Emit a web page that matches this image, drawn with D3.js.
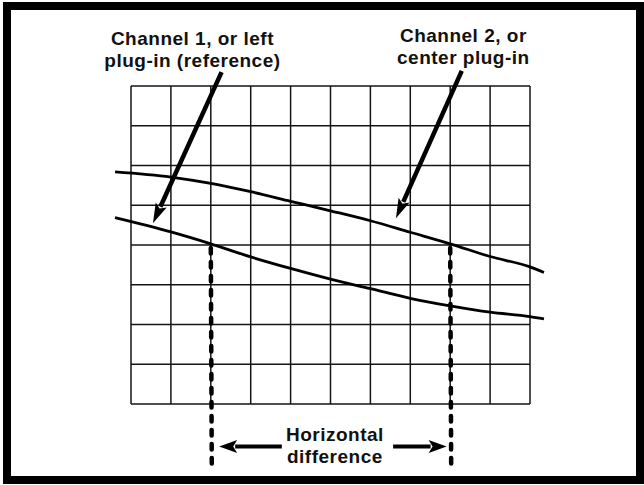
<!DOCTYPE html>
<html>
<head>
<meta charset="utf-8">
<script src="https://cdn.jsdelivr.net/npm/d3@7"></script>
<style>
  html, body { margin: 0; padding: 0; background: #fff; }
  svg { display: block; }
  text { font-family: "Liberation Sans", Arial, sans-serif; font-weight: bold; font-size: 19px; letter-spacing: 0.5px; fill: #111; }
</style>
</head>
<body>
<div id="container"></div>
<script>
const WIDTH = 644;
const HEIGHT = 485;

// graticule divisions (10 across, 8 down, centre line at 0)
const xDivisions = d3.range(0, 11);
const yDivisions = d3.range(-4, 5);

// traces, in divisions
const traceX = [-0.4, 1, 2, 3, 4, 5, 6, 7, 8, 9, 10, 10.35];
const channel2 = [1.84, 1.71, 1.55, 1.34, 1.1, 0.86, 0.61, 0.32, 0.03, -0.29, -0.55, -0.69];
const channel1 = [0.69, 0.33, 0.03, -0.3, -0.59, -0.86, -1.1, -1.34, -1.53, -1.69, -1.8, -1.86];

// where each trace crosses the centre line
const markerX = [2, 8];
const markerBottom = -5.66;

const labelText = [
  ["Channel 1, or left", "plug-in (reference)"],
  ["Channel 2, or", "center plug-in"],
  ["Horizontal", "difference"],
];
const labelPos = [[1.54, 5.03], [8.33, 5.1], [5.11, -4.93]];

// pointer arrows: [from, to]
const pointers = [
  [[2.27, 4.35], [0.55, 0.55]],
  [[8.29, 4.38], [6.64, 0.67]],
];
const spanArrows = [
  [[3.78, -5.07], [2.21, -5.07]],
  [[6.57, -5.07], [7.91, -5.07]],
];

const x = d3.scaleLinear().domain([0, 10]).range([131, 530]);
const y = d3.scaleLinear().domain([-4, 4]).range([404, 86]);

const svg = d3
  .select("#container")
  .append("svg")
  .attr("width", WIDTH)
  .attr("height", HEIGHT);

svg
  .append("rect")
  .attr("x", 7)
  .attr("y", 6)
  .attr("width", 633)
  .attr("height", 474)
  .attr("fill", "none")
  .attr("stroke", "#000")
  .attr("stroke-width", 8);

const grid = svg.append("g").attr("stroke", "#151515").attr("stroke-width", 1.5);

grid
  .selectAll("line.v")
  .data(xDivisions)
  .enter()
  .append("line")
  .attr("class", "v")
  .attr("x1", (d) => x(d))
  .attr("x2", (d) => x(d))
  .attr("y1", y(4))
  .attr("y2", y(-4));

grid
  .selectAll("line.h")
  .data(yDivisions)
  .enter()
  .append("line")
  .attr("class", "h")
  .attr("x1", x(0))
  .attr("x2", x(10))
  .attr("y1", (d) => y(d))
  .attr("y2", (d) => y(d));

const trace = d3
  .line()
  .x((d, i) => x(traceX[i]))
  .y((d) => y(d))
  .curve(d3.curveMonotoneX);

svg
  .selectAll("path.trace")
  .data([channel1, channel2])
  .enter()
  .append("path")
  .attr("class", "trace")
  .attr("d", trace)
  .attr("fill", "none")
  .attr("stroke", "#000")
  .attr("stroke-width", 2.8);

svg
  .selectAll("line.marker")
  .data(markerX)
  .enter()
  .append("line")
  .attr("class", "marker")
  .attr("x1", (d) => x(d))
  .attr("x2", (d) => x(d) + 1)
  .attr("y1", y(0) + 3)
  .attr("y2", y(markerBottom))
  .attr("stroke", "#000")
  .attr("stroke-width", 4.5)
  .attr("stroke-linecap", "round")
  .attr("stroke-dasharray", "5.5 8.5");

function arrow(from, to, shaft, headLen, headW) {
  const x1 = x(from[0]), y1 = y(from[1]);
  const x2 = x(to[0]), y2 = y(to[1]);
  const len = Math.hypot(x2 - x1, y2 - y1);
  const ux = (x2 - x1) / len, uy = (y2 - y1) / len;
  const bx = x2 - ux * headLen, by = y2 - uy * headLen;
  svg
    .append("line")
    .attr("x1", x1)
    .attr("y1", y1)
    .attr("x2", bx + ux * 2)
    .attr("y2", by + uy * 2)
    .attr("stroke", "#000")
    .attr("stroke-width", shaft);
  svg
    .append("path")
    .attr(
      "d",
      `M${x2},${y2}L${bx - uy * headW / 2},${by + ux * headW / 2}` +
        `L${bx + ux * 4},${by + uy * 4}L${bx + uy * headW / 2},${by - ux * headW / 2}Z`
    )
    .attr("fill", "#000");
}

pointers.forEach((p) => arrow(p[0], p[1], 4.5, 20, 12));
spanArrows.forEach((p) => arrow(p[0], p[1], 4, 18, 13));

svg
  .selectAll("text.label")
  .data(labelText)
  .enter()
  .append("text")
  .attr("class", "label")
  .attr("text-anchor", "middle")
  .attr("x", (d, i) => x(labelPos[i][0]))
  .attr("y", (d, i) => y(labelPos[i][1]))
  .selectAll("tspan")
  .data((d) => d)
  .enter()
  .append("tspan")
  .attr("x", function () {
    return this.parentNode.getAttribute("x");
  })
  .attr("dy", (d, i) => (i === 0 ? 0 : 22))
  .text((d) => d);
</script>
</body>
</html>
